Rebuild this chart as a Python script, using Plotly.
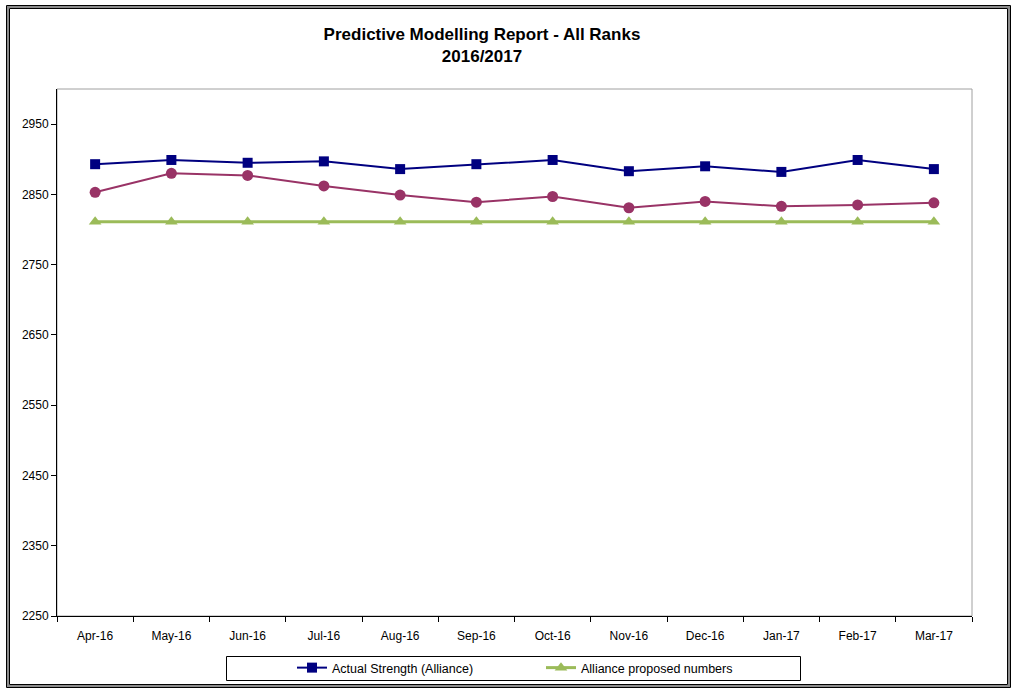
import plotly.graph_objects as go

# Monthly figures, April 2016 to March 2017
months = ["Apr-16", "May-16", "Jun-16", "Jul-16", "Aug-16", "Sep-16",
          "Oct-16", "Nov-16", "Dec-16", "Jan-17", "Feb-17", "Mar-17"]
actual_strength = [2893, 2899, 2895, 2897, 2886, 2893, 2899, 2883, 2890, 2882, 2899, 2886]
predicted = [2853, 2880, 2877, 2862, 2849, 2839, 2847, 2831, 2840, 2833, 2835, 2838]
proposed_numbers = [2811] * 12

y_ticks = [2250, 2350, 2450, 2550, 2650, 2750, 2850, 2950]

W, H = 1013, 689
L, R, T, B = 57, 972, 89, 616  # plot area in pixels


def px_x(p):
    return (p - L) / (R - L)


def px_y(p):
    return (B - p) / (B - T)


font = "Liberation Sans, Arial, sans-serif"

fig = go.Figure()
fig.add_trace(go.Scatter(
    x=months, y=actual_strength, mode="lines+markers",
    name="Actual Strength (Alliance)",
    line=dict(color="#000080", width=2),
    marker=dict(symbol="square", size=10, color="#000080"),
))
fig.add_trace(go.Scatter(
    x=months, y=predicted, mode="lines+markers",
    name="Predicted", showlegend=False,
    line=dict(color="#993366", width=2),
    marker=dict(symbol="circle", size=11, color="#993366"),
))
fig.add_trace(go.Scatter(
    x=months, y=proposed_numbers, mode="lines+markers",
    name="Alliance proposed numbers",
    line=dict(color="#9BBB59", width=3),
    marker=dict(symbol="triangle-up", size=11, color="#9BBB59"),
))

shapes = []
# plot area frame (top/right in grey)
shapes.append(dict(type="rect", xref="paper", yref="paper", x0=0, x1=1, y0=0, y1=1,
                   line=dict(color="#A0A0A0", width=1), layer="below"))
# legend box
shapes.append(dict(type="rect", xref="paper", yref="paper",
                   x0=px_x(226.5), x1=px_x(800.5), y0=px_y(680.5), y1=px_y(656.5),
                   line=dict(color="black", width=1)))
# outer chart frame: black / grey / black
for (x0, y0, x1, y1, col, w) in [
    (6.5, 5.5, 1010.5, 687.5, "black", 1),
    (8, 7, 1009, 686, "#8C8C8C", 2),
    (9.5, 8.5, 1007.5, 684.5, "black", 1),
]:
    shapes.append(dict(type="rect", xref="paper", yref="paper",
                       x0=px_x(x0), x1=px_x(x1), y0=px_y(y1), y1=px_y(y0),
                       line=dict(color=col, width=w)))

fig.update_layout(
    width=W, height=H,
    margin=dict(l=L, r=W - R, t=T, b=H - B, pad=0, autoexpand=False),
    paper_bgcolor="white", plot_bgcolor="white",
    font=dict(family=font, size=12, color="black"),
    title=dict(
        text="<b>Predictive Modelling Report - All Ranks</b><br><b>2016/2017</b>",
        x=482 / W, xanchor="center", xref="container",
        y=1 - 40 / H, yanchor="top", yref="container",
        font=dict(family=font, size=17, color="black"),
    ),
    showlegend=True,
    legend=dict(
        orientation="h", x=px_x(292), xanchor="left",
        y=px_y(668), yanchor="middle",
        bgcolor="rgba(0,0,0,0)", borderwidth=0,
        font=dict(family=font, size=12.5, color="black"),
        entrywidth=204, entrywidthmode="pixels",
    ),
    shapes=shapes,
)

fig.update_xaxes(
    type="category", range=[-0.5, 11.5],
    showgrid=False, zeroline=False,
    showline=True, linecolor="black", linewidth=1,
    ticks="outside", tickson="boundaries", ticklen=5, tickcolor="black",
    ticklabelstandoff=9,
    tickfont=dict(family=font, size=12, color="black"),
)
fig.update_yaxes(
    range=[2250, 3000], tickvals=y_ticks,
    showgrid=False, zeroline=False,
    showline=True, linecolor="black", linewidth=1,
    ticks="outside", ticklen=5, tickcolor="black",
    tickfont=dict(family=font, size=12, color="black"),
)

fig.write_html("out.html")
